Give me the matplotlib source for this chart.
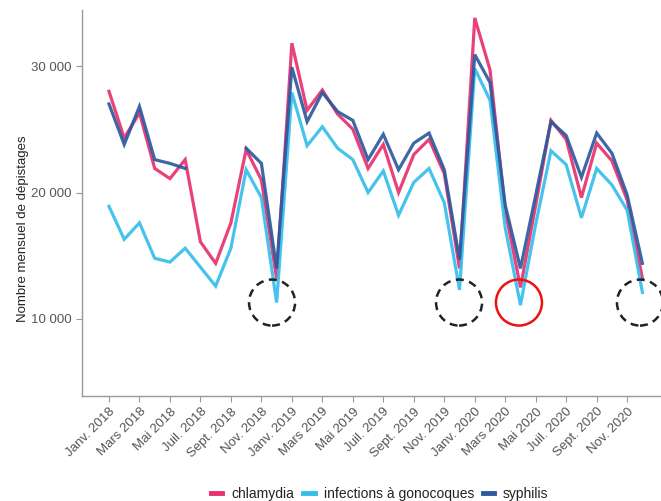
import numpy as np
import matplotlib
matplotlib.use("Agg")
import matplotlib.pyplot as plt
from matplotlib.patches import Ellipse

plt.rcParams['font.family'] = ['Liberation Sans', 'DejaVu Sans']

months = ["Janv. 2018", "Févr. 2018", "Mars 2018", "Avr. 2018", "Mai 2018", "Juin 2018",
          "Juil. 2018", "Août 2018", "Sept. 2018", "Oct. 2018", "Nov. 2018", "Déc. 2018",
          "Janv. 2019", "Févr. 2019", "Mars 2019", "Avr. 2019", "Mai 2019", "Juin 2019",
          "Juil. 2019", "Août 2019", "Sept. 2019", "Oct. 2019", "Nov. 2019", "Déc. 2019",
          "Janv. 2020", "Févr. 2020", "Mars 2020", "Avr. 2020", "Mai 2020", "Juin 2020",
          "Juil. 2020", "Août 2020", "Sept. 2020", "Oct. 2020", "Nov. 2020", "Déc. 2020"]

chlamydia = [28000, 24300, 26300, 21900, 21100, 22600, 16100, 14400, 17600, 23400, 21000, 13200,
             31800, 26500, 28100, 26200, 25000, 21900, 23800, 20000, 23000, 24200, 21500, 14000,
             33800, 29700, 18600, 12500, 19000, 25700, 24200, 19600, 23900, 22500, 19400, 13200]
gonocoques = [18900, 16300, 17600, 14800, 14500, 15600, 14100, 12600, 15600, 21800, 19600, 11300,
              27900, 23700, 25200, 23500, 22600, 20000, 21700, 18200, 20800, 21900, 19200, 12300,
              29800, 27300, 17200, 11100, 17500, 23300, 22200, 18000, 21900, 20600, 18600, 12100]
syphilis = [27000, 23800, 26800, 22600, 22300, 21900, np.nan, np.nan, np.nan, 23500, 22300, 14000,
            29900, 25600, 27900, 26400, 25700, 22600, 24600, 21800, 23900, 24700, 21800, 14700,
            30900, 28700, 19000, 14000, 19800, 25600, 24500, 21200, 24700, 23100, 19800, 14400]

series_names = ["chlamydia", "infections à gonocoques", "syphilis"]
colors = ["#E8316F", "#35BEEB", "#2D5A9E"]

y_ticks = [10000, 20000, 30000]
y_tick_labels = ["10 000", "20 000", "30 000"]

# highlighted months (dashed circles) and the red one
dashed_marks = [10.7, 22.97, 34.84]
red_mark = 26.9
mark_level = 11300

fig = plt.figure(figsize=(6.61, 5.01), dpi=100)
ax = fig.add_axes([82/661, 1-396/501, (661-82)/661, (396-10)/501])

x = np.arange(len(months))
for vals, name, c in zip([chlamydia, gonocoques, syphilis], series_names, colors):
    ax.plot(x, vals, color=c, lw=2.3, label=name, alpha=0.92, solid_joinstyle='miter')

ax.set_xlim(-1.77, 36.22)
ax.set_ylim(3913, 34427)

rx = 2 * 23 / 15.24
ry = 2 * 23 / 0.01265
for m in dashed_marks:
    ax.add_patch(Ellipse((m, mark_level), rx, ry, fill=False, ec="#222222", lw=1.8,
                         ls=(0, (3.2, 2.2)), clip_on=False, zorder=5))
ax.add_patch(Ellipse((red_mark, mark_level), rx, ry, fill=False, ec="#EE1111", lw=1.8,
                     clip_on=False, zorder=5))

ax.set_xticks(x[::2])
ax.set_xticklabels(months[::2], rotation=45, ha='right', rotation_mode='anchor',
                   fontsize=9.5, color="#555555")
ax.set_yticks(y_ticks)
ax.set_yticklabels(y_tick_labels, fontsize=9.5, color="#555555")
ax.tick_params(axis='both', length=4, width=0.8, color="#999999")
ax.tick_params(axis='x', pad=3)

for s in ['top', 'right']:
    ax.spines[s].set_visible(False)
for s in ['left', 'bottom']:
    ax.spines[s].set_color("#999999")
    ax.spines[s].set_linewidth(1.0)

ax.set_ylabel("Nombre mensuel de dépistages", fontsize=9.5, color="#222222")
ax.yaxis.set_label_coords(-0.092, 0.433)

leg = fig.legend(loc='center', bbox_to_anchor=(380/661, 1-494/501), ncol=3, frameon=False,
                 fontsize=10, handlelength=0.8, handletextpad=0.65, columnspacing=0.65,
                 borderaxespad=0)
for line in leg.get_lines():
    line.set_linewidth(3.5)
    line.set_alpha(1)
for t in leg.get_texts():
    t.set_color("#222222")

fig.savefig("out.png", dpi=100)
